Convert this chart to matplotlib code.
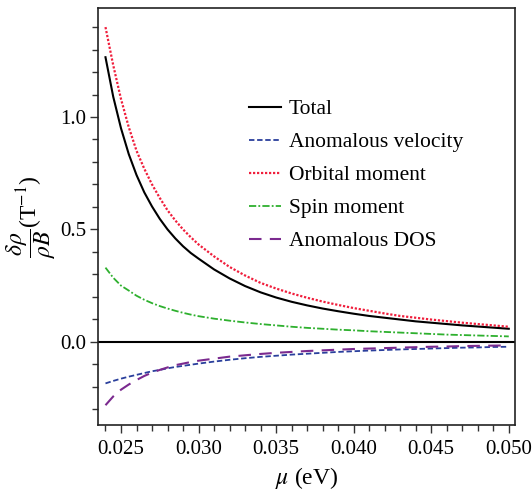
import matplotlib
matplotlib.use("Agg")
import matplotlib.pyplot as plt
from matplotlib.ticker import MultipleLocator

# chemical potential (eV)
mu = [0.0240, 0.0245, 0.0250, 0.0255, 0.0260, 0.0265, 0.0270, 0.0275,
      0.0280, 0.0285, 0.0290, 0.0295, 0.0300, 0.031, 0.032, 0.033, 0.034,
      0.035, 0.036, 0.037, 0.038, 0.039, 0.040, 0.041, 0.042, 0.043,
      0.044, 0.045, 0.046, 0.047, 0.048, 0.049, 0.050]

total = [1.266, 1.09, 0.95, 0.835, 0.742, 0.665, 0.602, 0.547,
         0.50, 0.46, 0.425, 0.395, 0.37, 0.322, 0.282, 0.248, 0.220,
         0.197, 0.178, 0.162, 0.148, 0.136, 0.125, 0.115, 0.107, 0.099,
         0.091, 0.085, 0.079, 0.073, 0.068, 0.063, 0.058]

anom_velocity = [-0.185, -0.174, -0.164, -0.155, -0.147, -0.139, -0.131, -0.125,
                 -0.118, -0.112, -0.107, -0.102, -0.097, -0.088, -0.080, -0.073, -0.067,
                 -0.062, -0.057, -0.053, -0.049, -0.045, -0.042, -0.039, -0.0365, -0.034,
                 -0.032, -0.030, -0.028, -0.026, -0.025, -0.023, -0.022]

orbital = [1.40, 1.23, 1.08, 0.955, 0.85, 0.77, 0.70, 0.64,
           0.585, 0.54, 0.50, 0.465, 0.433, 0.38, 0.333, 0.295, 0.262,
           0.237, 0.215, 0.196, 0.179, 0.164, 0.150, 0.138, 0.126, 0.115,
           0.107, 0.099, 0.092, 0.085, 0.079, 0.073, 0.067]

spin = [0.33, 0.285, 0.25, 0.228, 0.205, 0.187, 0.172, 0.159,
        0.148, 0.138, 0.129, 0.121, 0.114, 0.103, 0.094, 0.086, 0.079,
        0.073, 0.067, 0.062, 0.058, 0.054, 0.051, 0.047, 0.044, 0.041,
        0.038, 0.035, 0.032, 0.030, 0.028, 0.026, 0.024]

anom_dos = [-0.282, -0.243, -0.213, -0.190, -0.170, -0.152, -0.137, -0.125,
            -0.114, -0.104, -0.097, -0.090, -0.084, -0.075, -0.066, -0.060, -0.054,
            -0.049, -0.045, -0.041, -0.038, -0.035, -0.032, -0.030, -0.028, -0.026,
            -0.024, -0.022, -0.021, -0.019, -0.018, -0.017, -0.016]

plt.rcParams["font.family"] = ["Liberation Serif", "DejaVu Serif"]
plt.rcParams["mathtext.fontset"] = "stix"

fig = plt.figure(figsize=(5.32, 4.90), dpi=100)
ax = fig.add_axes([0.1837, 0.1327, 0.968 - 0.1837, 0.9837 - 0.1327])

ax.axhline(0.0, color="black", lw=1.5, zorder=1)

ax.plot(mu, total, color="black", lw=1.5, label="Total")
ax.plot(mu, anom_velocity, color="#2a3f9c", lw=1.3, ls=(0, (3, 1.5)),
        label="Anomalous velocity")
ax.plot(mu, orbital, color="#f01e3c", lw=1.6, ls=(0, (1, 0.8)),
        label="Orbital moment")
ax.plot(mu, spin, color="#2eb02e", lw=1.3, ls=(0, (4, 1.2, 1, 1.2)),
        label="Spin moment")
ax.plot(mu, anom_dos, color="#7b2a8f", lw=1.5, ls=(0, (6, 4)),
        label="Anomalous DOS")

ax.set_xlim(0.0235, 0.0504)
ax.set_ylim(-0.37, 1.485)

ax.xaxis.set_major_locator(MultipleLocator(0.005))
ax.xaxis.set_minor_locator(MultipleLocator(0.001))
ax.yaxis.set_major_locator(MultipleLocator(0.5))
ax.yaxis.set_minor_locator(MultipleLocator(0.1))
ax.xaxis.set_major_formatter(lambda v, p: f"{v:.3f}")
ax.yaxis.set_major_formatter(lambda v, p: f"{v:.1f}")

ax.tick_params(which="both", direction="out", top=False, right=False,
               labelsize=15, width=1.0, color="#333333")
ax.tick_params(which="major", length=6)
ax.tick_params(which="minor", length=4)
ax.tick_params(axis="x", which="major", pad=5)
ax.tick_params(axis="y", which="major", pad=2)
for s in ax.spines.values():
    s.set_linewidth(1.2)
    s.set_color("#222222")

ax.set_xlabel(r"$\mu$ (eV)", fontsize=17, labelpad=4)
ax.set_ylabel(r"$\dfrac{\delta\rho}{\rho B}$(T$^{-1}$)", fontsize=17, labelpad=2)

ax.legend(loc="upper left", bbox_to_anchor=(0.452, 0.815),
          bbox_transform=fig.transFigure, frameon=False, fontsize=15.5,
          handlelength=1.5, handletextpad=0.35, labelspacing=0.6,
          borderaxespad=0)

fig.savefig("out.png", dpi=100)
